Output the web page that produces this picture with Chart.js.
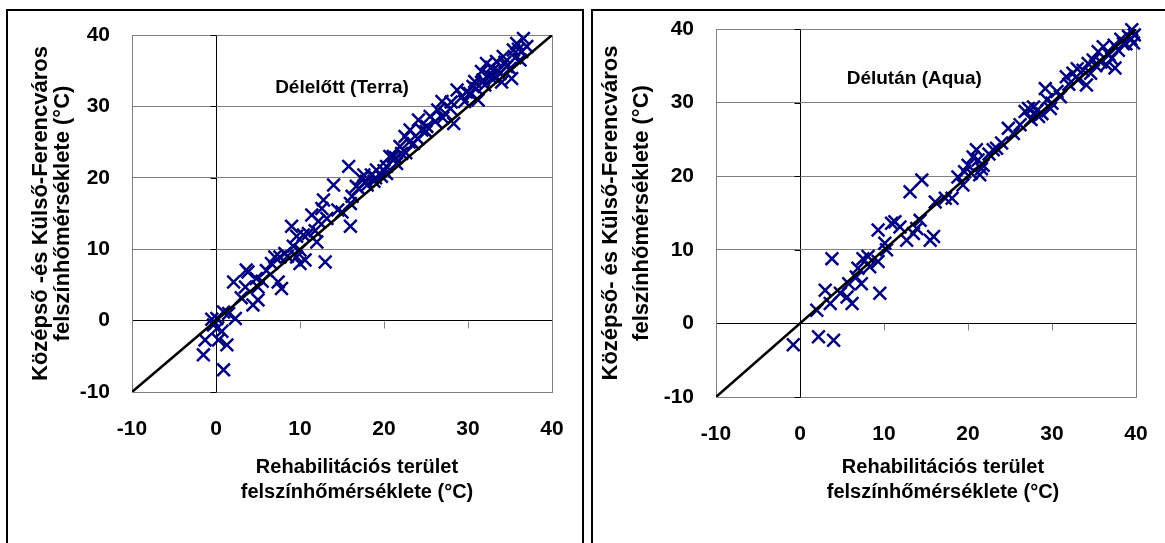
<!DOCTYPE html>
<html><head><meta charset="utf-8">
<script src="https://cdn.jsdelivr.net/npm/chart.js@4.4.1/dist/chart.umd.min.js"></script>
<style>
html,body{margin:0;padding:0;background:#fff;width:1165px;height:543px;overflow:hidden;position:relative;}
.panel{position:absolute;border:2px solid #000;box-sizing:border-box;}
#p1{left:6px;top:9px;width:578px;height:600px;}
#p2{left:591px;top:9px;width:600px;height:600px;}
canvas{position:absolute;}
#c1{left:8px;top:11px;}
#c2{left:593px;top:11px;}
</style></head><body>
<div class="panel" id="p1"></div><div class="panel" id="p2"></div>
<canvas id="c1" width="574" height="532"></canvas>
<canvas id="c2" width="572" height="532"></canvas>
<script>
// ---- data ----
const axisMin = -10, axisMax = 40, axisStep = 10;
const refLineX = [-10, 40];
const refLineY = [-10, 40];

const terraX = [0.9,-1.5,-1.3,0.3,1.3,0.7,-0.3,0.1,0.9,2.3,2.1,3.6,3.5,4.8,5.0,4.4,5.0,7.4,7.8,7.0,6.6,7.6,8.2,9.2,9.0,9.6,10.0,10.6,10.0,9.6,10.4,11.0,13.0,11.4,12.2,12.6,12.8,13.2,14.0,15.8,16.0,16.0,16.2,16.7,17.3,17.9,18.5,19.1,19.7,20.3,20.7,21.5,22.1,
  20.3,21.1,21.9,22.5,23.1,23.5,24.1,24.5,25.1,25.5,26.1,26.9,27.3,27.9,28.3,28.7,29.3,29.6,30.2,30.6,31.2,31.6,31.8,32.2,32.6,33.0,33.4,33.8,34.2,34.6,35.2,35.4,35.8,36.2,36.6,37.0,36.4,
  31.0,32.0,32.8,33.6,34.4,35.0,35.6,36.0,34.0,33.2,30.8,29.8,28.0,27.0,26.4,25.0,24.0,23.0,22.6,21.4,20.0,19.0,18.0,17.0,17.6,18.8,14.5,15.0,11.8,12.0,8.5,6.0,5.5,3.0,1.5,-0.5,0.2,3.8];
const terraY = [-6.9,-4.8,-2.7,-2.7,-3.4,-1.5,-0.6,0.3,1.2,0.3,5.4,7.1,4.7,5.9,4.7,2.2,2.9,5.4,4.5,8.9,8.0,8.9,9.4,10.4,13.2,8.9,9.9,8.5,8.0,11.8,12.0,12.2,8.2,14.8,13.9,15.7,16.9,14.3,19.0,21.6,16.4,13.2,17.4,18.8,19.9,19.5,20.4,21.1,20.2,20.6,23.0,22.0,23.4,
  21.6,23.0,24.4,25.8,26.7,24.8,28.1,26.7,27.2,28.6,27.9,30.7,29.0,29.7,27.6,32.3,31.4,30.7,31.8,32.8,30.9,34.9,33.7,36.0,34.2,35.1,36.3,34.6,37.0,35.6,33.9,37.9,38.8,36.5,39.5,38.4,37.7,
  32.5,33.0,35.5,35.0,36.2,35.3,36.8,38.0,33.4,34.0,33.5,32.0,30.6,28.4,29.5,26.5,25.5,25.0,23.5,22.8,21.0,20.0,19.0,18.5,20.4,19.5,15.5,15.2,12.6,11.0,9.0,7.0,5.5,3.2,1.0,0.2,-1.0,6.8];

const aquaX = [-0.8,2.2,4.0,2.0,3.0,3.6,3.8,4.8,5.6,6.2,5.8,6.7,7.3,6.9,7.5,8.1,8.3,9.3,9.5,10.3,10.1,9.3,10.9,11.3,11.9,12.7,13.1,13.5,13.9,14.3,14.5,15.5,15.9,16.1,17.3,18.1,18.8,19.4,19.6,20.0,20.4,21.0,21.2,20.6,21.4,21.8,23.0,
  23.4,24.8,25.4,26.8,27.2,27.8,28.4,28.8,29.2,29.4,30.0,30.6,31.0,31.7,32.5,33.1,33.7,34.3,34.1,34.9,35.5,36.1,36.5,37.1,37.5,37.9,38.5,39.1,39.5,39.8,39.7,
  32.0,33.0,34.6,35.2,36.8,37.4,38.2,38.8,39.4,35.8,29.8,28.2,27.5,26.2,24.0,22.5,21.6];
const aquaY = [-2.9,-1.8,-2.3,1.8,4.5,2.7,8.8,4.1,3.6,2.7,5.4,6.3,5.4,7.5,8.8,9.1,7.7,8.4,4.1,10.0,10.9,12.7,13.6,13.8,13.1,11.3,17.9,12.2,12.9,14.0,19.5,11.3,11.8,16.5,17.0,17.0,19.9,18.8,20.6,21.5,20.4,23.6,22.2,22.6,20.2,21.5,23.6,
  23.8,26.5,25.8,28.8,29.2,29.4,28.1,28.5,31.9,30.4,29.9,31.5,30.8,33.5,34.0,33.1,34.4,35.3,32.4,35.8,36.9,37.6,35.1,36.0,34.7,37.1,38.0,39.0,39.9,39.2,38.1,
  32.5,34.6,34.0,35.0,36.5,37.8,38.6,38.0,38.6,35.5,29.2,28.9,27.7,27.0,24.5,23.0,21.0];

const yTitle = {
  terra: ['Középső -és Külső-Ferencváros', 'felszínhőmérséklete (°C)'],
  aqua: ['Középső- és Külső-Ferencváros', 'felszínhőmérséklete (°C)']
};
const xTitle = ['Rehabilitációs terület', 'felszínhőmérséklete (°C)'];
const notes = { terra: 'Délelőtt (Terra)', aqua: 'Délután (Aqua)' };

// ---- helpers ----
const FONT = "'Liberation Sans', Arial, sans-serif";
const pts = (xs, ys) => xs.map((v, i) => ({x: v, y: ys[i]}));

const decor = {
  id: 'decor',
  beforeDatasetsDraw(chart, args, o) {
    const {ctx, scales: {x, y}} = chart;
    const x0 = Math.round(x.getPixelForValue(0)) + 0.5;
    const y0 = Math.round(y.getPixelForValue(0)) + 0.5;
    ctx.save();
    ctx.lineWidth = 1;
    ctx.strokeStyle = '#808080';
    x.ticks.forEach(t => {
      if (t.value === 0) return;
      const px = Math.round(x.getPixelForValue(t.value)) + 0.5;
      ctx.beginPath(); ctx.moveTo(px, y0); ctx.lineTo(px, y0 + 7); ctx.stroke();
    });
    ctx.strokeStyle = '#000';
    y.ticks.forEach(t => {
      const py = Math.round(y.getPixelForValue(t.value)) + 0.5;
      ctx.beginPath(); ctx.moveTo(x0 - 6, py); ctx.lineTo(x0, py); ctx.stroke();
    });
    ctx.restore();
  },
  afterDraw(chart, args, o) {
    const {ctx, chartArea: ca, scales: {x, y}} = chart;
    ctx.save();
    ctx.fillStyle = '#000';
    ctx.textAlign = 'center';
    ctx.textBaseline = 'middle';
    ctx.font = 'bold 20px ' + FONT;
    const cx = (ca.left + ca.right) / 2 + o.titleDx;
    o.xTitle.forEach((line, i) => ctx.fillText(line, cx, ca.bottom + o.titleDy + i * 25));
    ctx.font = 'bold 19px ' + FONT;
    ctx.fillText(o.note, x.getPixelForValue(o.noteX), y.getPixelForValue(o.noteY));
    ctx.restore();
  }
};

function makeChart(id, xs, ys, cfg) {
  return new Chart(document.getElementById(id), {
    type: 'scatter',
    data: {
      datasets: [
        {
          data: pts(refLineX, refLineY), showLine: true, borderColor: '#000', borderWidth: 2.5,
          pointRadius: 0, pointHoverRadius: 0, fill: false
        },
        {
          data: pts(xs, ys), pointStyle: 'crossRot', pointRadius: 9, pointHoverRadius: 9,
          borderColor: '#000080', backgroundColor: '#000080', pointBorderWidth: 2.5, borderWidth: 2.5,
          showLine: false, clip: false
        }
      ]
    },
    options: {
      responsive: false, animation: false, devicePixelRatio: 1,
      layout: {autoPadding: false, padding: {left: 0, top: cfg.padTop, right: cfg.padRight, bottom: 0}},
      plugins: {
        legend: {display: false}, tooltip: {enabled: false},
        decor: {xTitle: xTitle, titleDx: cfg.titleDx, titleDy: cfg.titleDy, note: cfg.note, noteX: cfg.noteX, noteY: cfg.noteY}
      },
      scales: {
        x: {
          type: 'linear', position: 'bottom', min: axisMin, max: axisMax,
          afterFit: s => { s.height = cfg.xHeight; s.paddingLeft = 0; s.paddingRight = 0; },
          ticks: {stepSize: axisStep, color: '#000', padding: 25, font: {family: FONT, size: 21, weight: 'bold'}},
          grid: {drawTicks: false, lineWidth: 1,
            color: c => c.tick && c.tick.value === 0 ? '#000' : (c.tick && c.tick.value === axisMax ? '#808080' : 'rgba(0,0,0,0)')},
          border: {display: true, color: '#808080', width: 1}
        },
        y: {
          type: 'linear', position: 'left', min: axisMin, max: axisMax,
          afterFit: s => { s.width = cfg.yWidth; s.paddingTop = 0; s.paddingBottom = 0; },
          ticks: {stepSize: axisStep, color: '#000', padding: 22, font: {family: FONT, size: 21, weight: 'bold'}},
          grid: {drawTicks: false, lineWidth: 1, color: c => c.tick && c.tick.value === 0 ? '#000' : '#808080'},
          border: {display: true, color: '#808080', width: 1},
          title: {display: true, text: cfg.yTitle, color: '#000',
            font: {family: FONT, size: 22, weight: 'bold', lineHeight: cfg.yLH}, padding: {top: cfg.yPad, bottom: 0}}
        }
      }
    },
    plugins: [decor]
  });
}

makeChart('c1', terraX, terraY, {
  padTop: 24, padRight: 30, xHeight: 151, yWidth: 124, yTitle: yTitle.terra, yLH: 1.0, yPad: 22,
  titleDx: 15, titleDy: 75, note: notes.terra, noteX: 15, noteY: 32.6
});
makeChart('c2', aquaX, aquaY, {
  padTop: 18, padRight: 29, xHeight: 146, yWidth: 123, yTitle: yTitle.aqua, yLH: 1.4, yPad: 3,
  titleDx: 17, titleDy: 70, note: notes.aqua, noteX: 13.6, noteY: 33.2
});
</script>
</body></html>
